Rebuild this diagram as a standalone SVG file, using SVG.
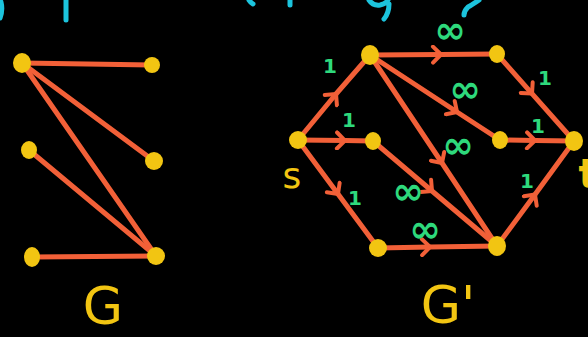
<svg xmlns="http://www.w3.org/2000/svg" width="588" height="337" viewBox="0 0 588 337">
<style>
.edge{stroke:#F26038;stroke-width:5;fill:none;stroke-linecap:round;stroke-linejoin:round}
.node{fill:#F2C512}
.w{fill:#2ED97C;font-family:"DejaVu Sans",sans-serif;font-weight:bold;text-anchor:middle;dominant-baseline:central}
.one{font-size:20px}
.inf{font-size:38px}
.lbl{fill:#F2C512;font-family:"DejaVu Sans",sans-serif;text-anchor:middle}
.cy{stroke:#1CC4DD;stroke-width:5;fill:none;stroke-linecap:round}
</style>
<defs>
<marker id="chev" markerUnits="userSpaceOnUse" viewBox="-12 -10 16 20" markerWidth="16" markerHeight="20" refX="0" refY="0" orient="auto">
<path d="M-8 -8 L0 0 L-8 8" fill="none" stroke="#F26038" stroke-width="4" stroke-linecap="round" stroke-linejoin="round"/>
</marker>
</defs>
<rect width="588" height="337" fill="#000"/>
<g id="top-fragments">
<path class="cy" d="M1 2 Q3 10 0 18"/>
<path class="cy" d="M66 0 L66 20"/>
<path class="cy" d="M249 0 Q251 3 253 4"/>
<path class="cy" d="M290 0 L290 5"/>
<path class="cy" d="M369 0 Q373 6 380 5 Q386 4 388 0 M389 4 Q389 13 384 19"/>
<path class="cy" d="M479 0 Q472 5 468 7 Q464 11 464 15"/>
</g>
<g id="connectors">
<line class="edge" x1="22" y1="63" x2="152" y2="65"/>
<line class="edge" x1="22" y1="63" x2="154" y2="161"/>
<line class="edge" x1="22" y1="63" x2="156" y2="256"/>
<line class="edge" x1="29" y1="150" x2="156" y2="256"/>
<line class="edge" x1="32" y1="257" x2="156" y2="256"/>
<path class="edge" marker-mid="url(#chev)" d="M298 140 L336 94 L370 55"/>
<path class="edge" marker-mid="url(#chev)" d="M298 140 L345 140.6 L373 141"/>
<path class="edge" marker-mid="url(#chev)" d="M298 140 L338 194 L378 248"/>
<path class="edge" marker-mid="url(#chev)" d="M370 55 L441 54.5 L497 54"/>
<path class="edge" marker-mid="url(#chev)" d="M370 55 L457 112 L500 140"/>
<path class="edge" marker-mid="url(#chev)" d="M370 55 L442 163 L497 246"/>
<path class="edge" marker-mid="url(#chev)" d="M373 141 L432 191 L497 246"/>
<path class="edge" marker-mid="url(#chev)" d="M378 248 L430 247 L497 246"/>
<path class="edge" marker-mid="url(#chev)" d="M497 54 L532 93.6 L574 141"/>
<path class="edge" marker-mid="url(#chev)" d="M500 140 L535 140.5 L574 141"/>
<path class="edge" marker-mid="url(#chev)" d="M497 246 L535 194.5 L574 141"/>
</g>
<g id="edge-labels">
<text class="w one" x="330" y="66">1</text>
<text class="w one" x="349" y="120">1</text>
<text class="w one" x="355" y="198">1</text>
<text class="w inf" x="450" y="30">∞</text>
<text class="w inf" x="465" y="89">∞</text>
<text class="w inf" x="458" y="145">∞</text>
<text class="w inf" x="408" y="191">∞</text>
<text class="w inf" x="425" y="229">∞</text>
<text class="w one" x="545" y="78">1</text>
<text class="w one" x="538" y="126">1</text>
<text class="w one" x="527" y="181">1</text>
</g>
<g id="G-A"><ellipse class="node" cx="22" cy="63" rx="9" ry="10"/></g>
<g id="G-B"><ellipse class="node" cx="152" cy="65" rx="8" ry="8"/></g>
<g id="G-C"><ellipse class="node" cx="29" cy="150" rx="8" ry="9"/></g>
<g id="G-D"><ellipse class="node" cx="154" cy="161" rx="9" ry="9"/></g>
<g id="G-E"><ellipse class="node" cx="32" cy="257" rx="8" ry="10"/></g>
<g id="G-F"><ellipse class="node" cx="156" cy="256" rx="9" ry="9"/></g>
<g id="s"><ellipse class="node" cx="298" cy="140" rx="9" ry="9"/></g>
<g id="a"><ellipse class="node" cx="370" cy="55" rx="9" ry="10"/></g>
<g id="b"><ellipse class="node" cx="497" cy="54" rx="8" ry="9"/></g>
<g id="c"><ellipse class="node" cx="373" cy="141" rx="8" ry="9"/></g>
<g id="d"><ellipse class="node" cx="500" cy="140" rx="8" ry="9"/></g>
<g id="t"><ellipse class="node" cx="574" cy="141" rx="9" ry="10"/></g>
<g id="e"><ellipse class="node" cx="378" cy="248" rx="9" ry="9"/></g>
<g id="f"><ellipse class="node" cx="497" cy="246" rx="9" ry="10"/></g>
<g id="labels">
<text class="lbl" x="292" y="188" font-size="36">s</text>
<text class="lbl" x="588" y="188" font-size="40" font-weight="bold">t</text>
<text class="lbl" x="103" y="324" font-size="52">G</text>
<text class="lbl" x="448" y="323" font-size="52">G'</text>
</g>
</svg>
